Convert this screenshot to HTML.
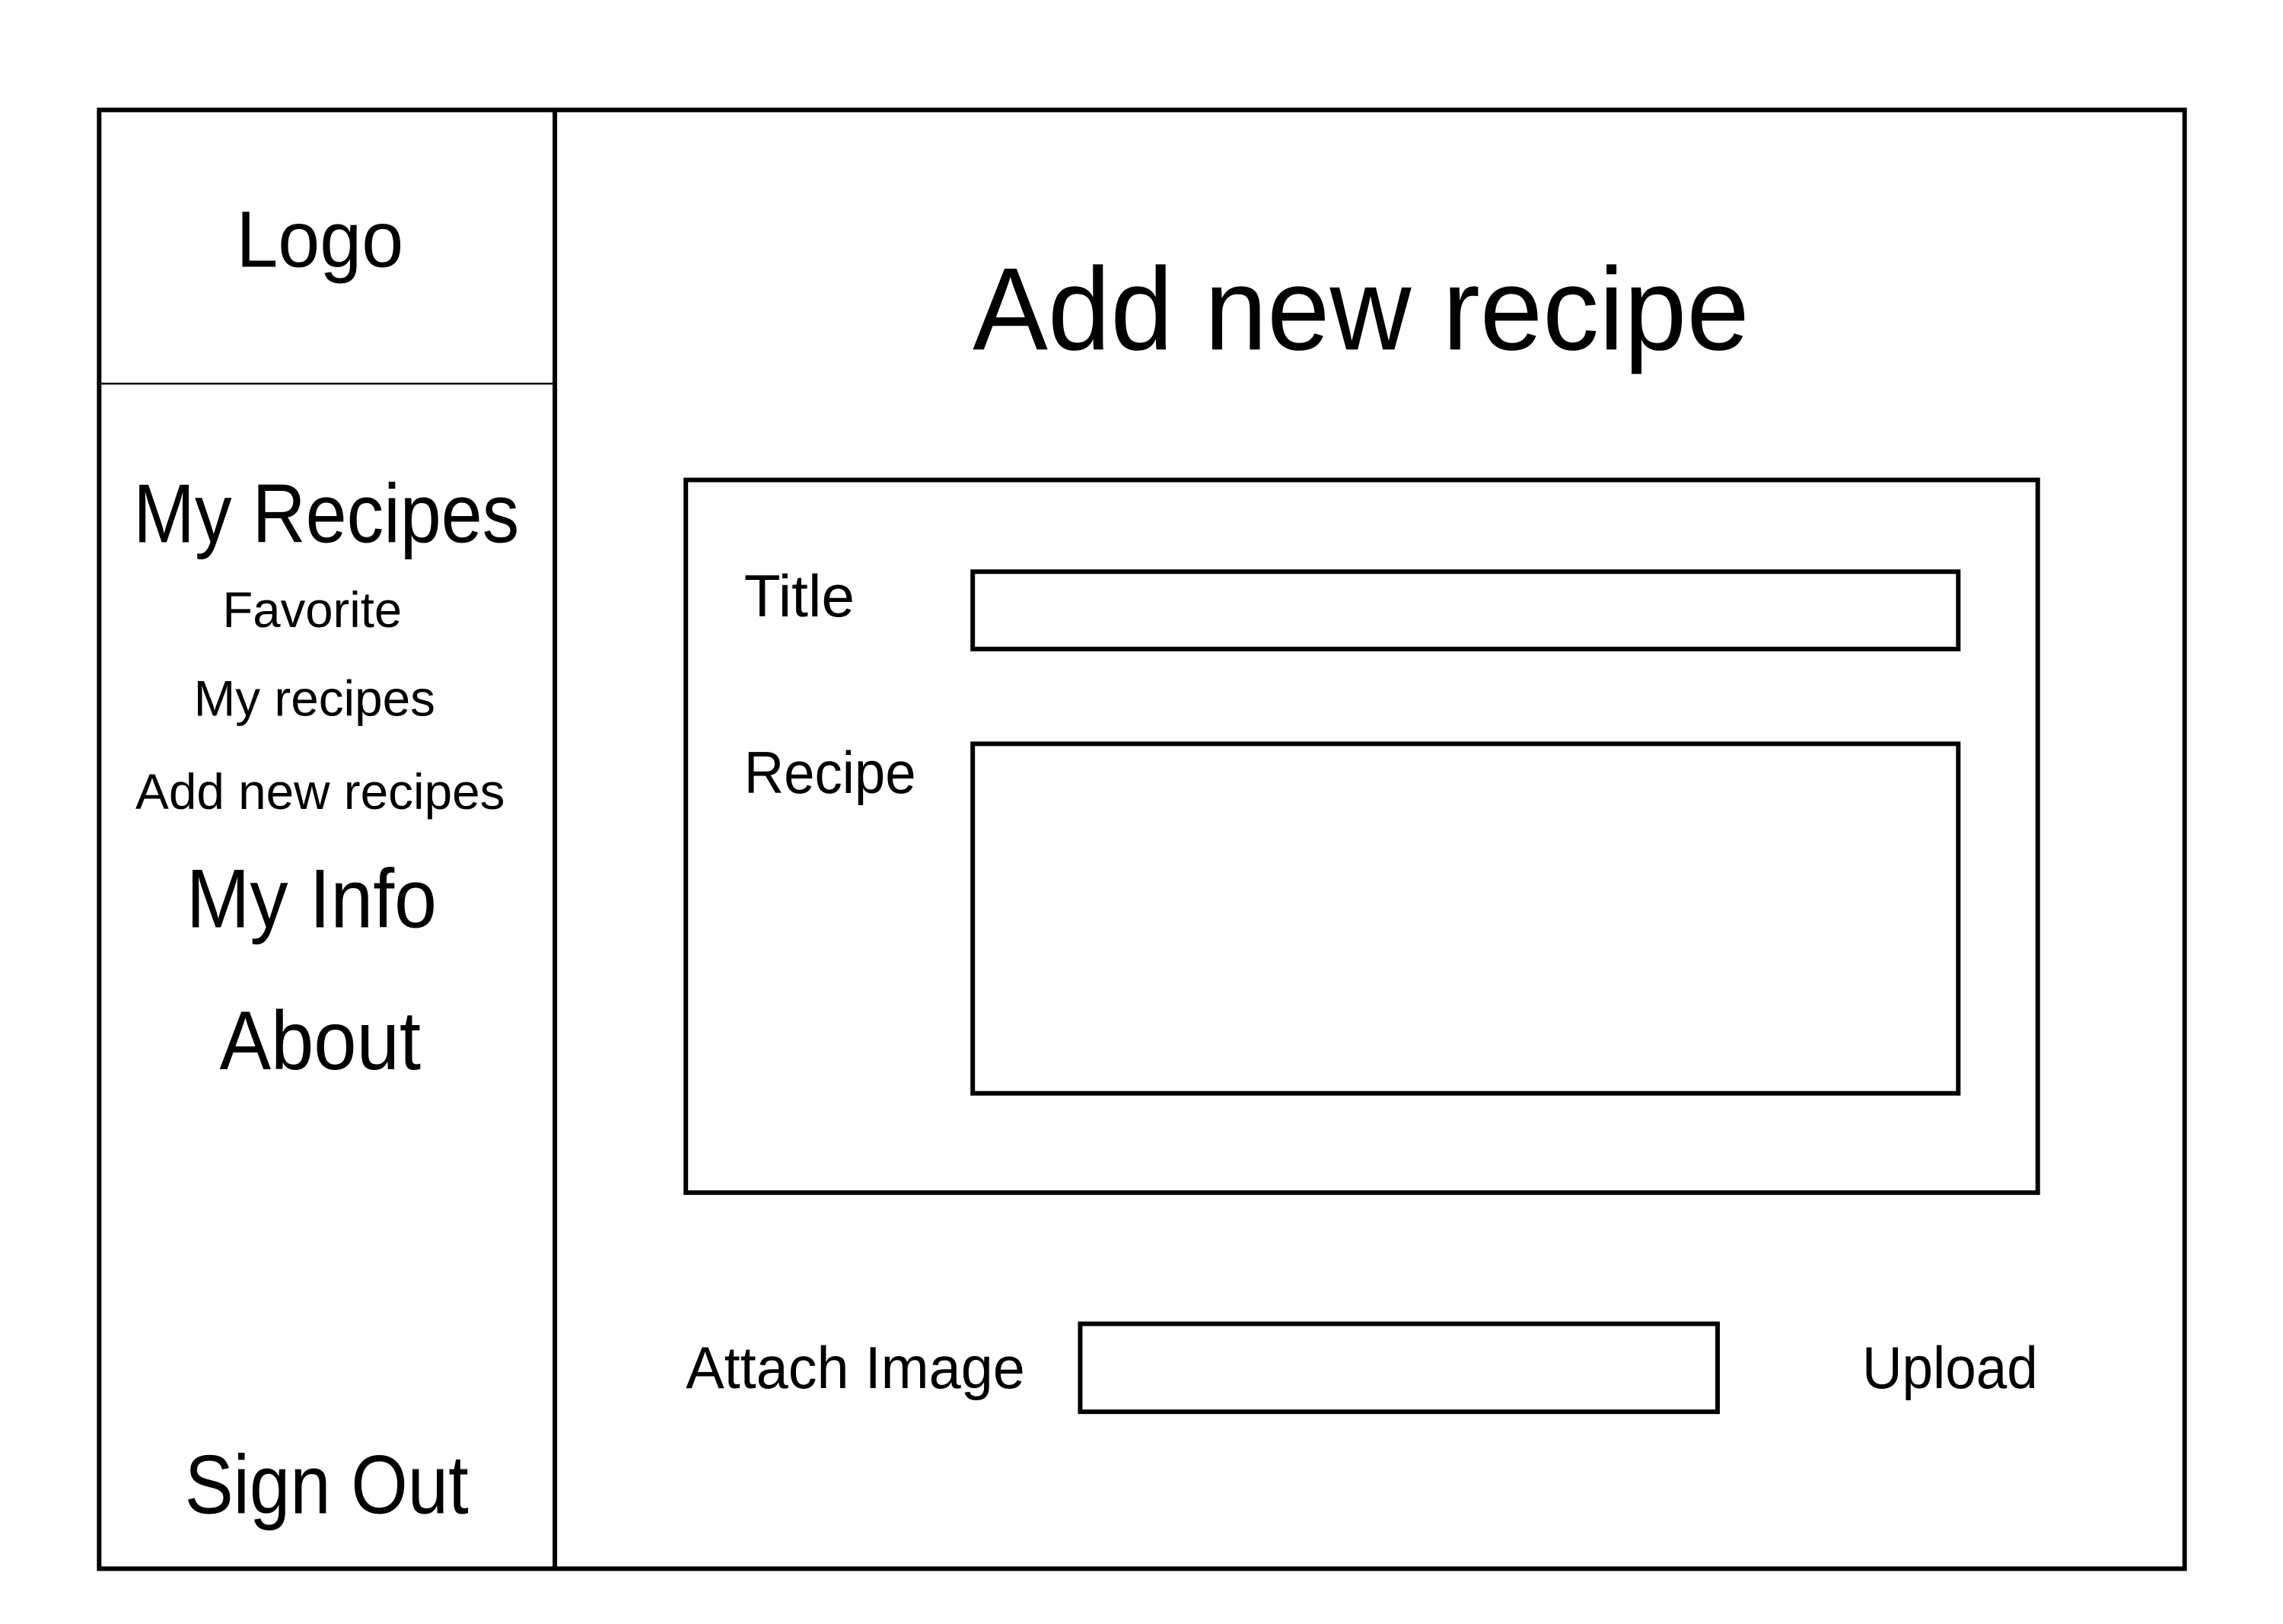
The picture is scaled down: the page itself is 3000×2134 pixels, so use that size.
<!DOCTYPE html>
<html><head><meta charset="utf-8"><style>html,body{margin:0;padding:0;background:#fff}svg{display:block}</style></head>
<body>
<svg width="3000" height="2134" viewBox="0 0 3000 2134" xmlns="http://www.w3.org/2000/svg" font-family="Liberation Sans, sans-serif" fill="#000">
<rect x="0" y="0" width="3000" height="2134" fill="#fff"/>
<g transform="scale(0.9947,0.9963)">
<g fill="none" stroke="#000" stroke-width="6">
<rect x="131" y="145" width="2755" height="1924"/>
<line x1="733" y1="145" x2="733" y2="2069"/>
<rect x="906" y="633" width="1786" height="940"/>
<rect x="1285" y="754" width="1302" height="102"/>
<rect x="1285" y="981" width="1302" height="461"/>
<rect x="1427" y="1746" width="842" height="116"/>
</g>
<line x1="131" y1="506" x2="733" y2="506" stroke="#000" stroke-width="2.5"/>
<text x="312" y="352" font-size="105" textLength="221" lengthAdjust="spacingAndGlyphs">Logo</text>
<text x="1285" y="461" font-size="155" textLength="1026" lengthAdjust="spacingAndGlyphs">Add new recipe</text>
<text x="176" y="715" font-size="110" textLength="510" lengthAdjust="spacingAndGlyphs">My Recipes</text>
<text x="294" y="827" font-size="66" textLength="237" lengthAdjust="spacingAndGlyphs">Favorite</text>
<text x="256" y="944" font-size="66" textLength="319" lengthAdjust="spacingAndGlyphs">My recipes</text>
<text x="179" y="1067" font-size="66" textLength="488" lengthAdjust="spacingAndGlyphs">Add new recipes</text>
<text x="246" y="1223" font-size="110" textLength="331" lengthAdjust="spacingAndGlyphs">My Info</text>
<text x="290" y="1410" font-size="110" textLength="266" lengthAdjust="spacingAndGlyphs">About</text>
<text x="244" y="1996" font-size="110" textLength="375" lengthAdjust="spacingAndGlyphs">Sign Out</text>
<text x="983" y="813" font-size="78" textLength="146" lengthAdjust="spacingAndGlyphs">Title</text>
<text x="983" y="1046" font-size="78" textLength="227" lengthAdjust="spacingAndGlyphs">Recipe</text>
<text x="906" y="1831" font-size="78" textLength="448" lengthAdjust="spacingAndGlyphs">Attach Image</text>
<text x="2460" y="1831" font-size="78" textLength="232" lengthAdjust="spacingAndGlyphs">Upload</text>
</g>
</svg>
</body></html>
